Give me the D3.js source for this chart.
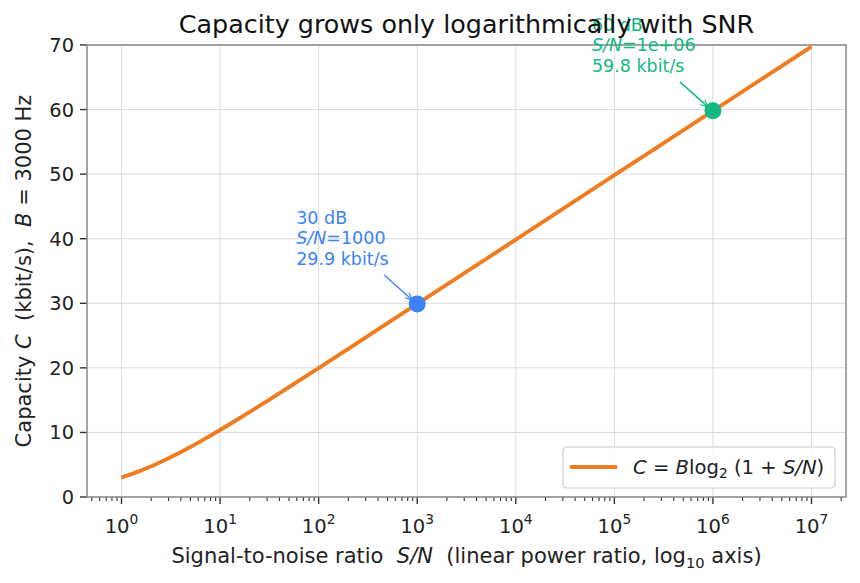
<!DOCTYPE html>
<html>
<head>
<meta charset="utf-8">
<script src="https://cdn.jsdelivr.net/npm/d3@7"></script>
<style>
  body { margin: 0; background: #fff; }
  svg { font-family: "DejaVu Sans", sans-serif; }
</style>
</head>
<body>
<script>
// S/N (linear) and capacity in kbit/s
var snr = [1, 1.5, 2, 3, 5, 7, 10, 15, 20, 30, 50, 70, 100, 200, 500, 1000, 1e4, 1e5, 1e6, 1e7];
var capacity = [3.00, 3.97, 4.75, 6.00, 7.75, 9.00, 10.38, 12.00, 13.18, 14.86, 17.02, 18.46, 19.97, 22.95, 26.91, 29.90, 39.86, 49.83, 59.80, 69.76];

var xTicks = [1, 10, 100, 1000, 1e4, 1e5, 1e6, 1e7];
var xTickExp = ["0", "1", "2", "3", "4", "5", "6", "7"];
var yTicks = [0, 10, 20, 30, 40, 50, 60, 70];

var markSnr = [1000, 1e6];
var markCap = [29.90, 59.80];
var markLines = [["30 dB", "1000", "29.9 kbit/s"], ["60 dB", "1e+06", "59.8 kbit/s"]];
var markColors = ["#3b82f6", "#10b981"];

var W = 860, H = 583;
var margin = { top: 45, right: 14, bottom: 86, left: 87 },
    width = W - margin.left - margin.right,
    height = H - margin.top - margin.bottom;

var svg = d3.select("body").append("svg")
    .attr("width", W).attr("height", H);

var defs = svg.append("defs");
markColors.forEach(function (c, i) {
    defs.append("marker")
        .attr("id", "arr" + i)
        .attr("viewBox", "0 0 10 10")
        .attr("refX", 9).attr("refY", 5)
        .attr("markerWidth", 8).attr("markerHeight", 8)
        .attr("markerUnits", "userSpaceOnUse")
        .attr("orient", "auto")
        .append("path")
        .attr("d", "M0,1 L10,5 L0,9")
        .attr("fill", "none")
        .attr("stroke", c)
        .attr("stroke-width", 1.4);
});

var g = svg.append("g")
    .attr("transform", "translate(" + margin.left + "," + margin.top + ")");

var x = d3.scaleLog()
    .domain([Math.pow(10, -0.35), Math.pow(10, 7.35)])
    .range([0, width]);
var y = d3.scaleLinear().domain([0, 70]).range([height, 0]);

// grid
g.append("g").selectAll("line").data(xTicks).enter().append("line")
    .attr("x1", function (d) { return x(d); }).attr("x2", function (d) { return x(d); })
    .attr("y1", 0).attr("y2", height)
    .attr("stroke", "#d3d7db").attr("stroke-width", 0.9);
g.append("g").selectAll("line").data(yTicks).enter().append("line")
    .attr("x1", 0).attr("x2", width)
    .attr("y1", function (d) { return y(d); }).attr("y2", function (d) { return y(d); })
    .attr("stroke", "#d3d7db").attr("stroke-width", 0.9);

// minor x ticks
var minor = [];
for (var e = -1; e <= 7; e++) {
    for (var m = 2; m <= 9; m++) {
        var v = m * Math.pow(10, e);
        if (v >= x.domain()[0] && v <= x.domain()[1]) minor.push(v);
    }
}
g.append("g").selectAll("line").data(minor).enter().append("line")
    .attr("x1", function (d) { return x(d); }).attr("x2", function (d) { return x(d); })
    .attr("y1", height).attr("y2", height + 4)
    .attr("stroke", "#333").attr("stroke-width", 1.1);

// major x ticks + labels
var xt = g.append("g").selectAll("g").data(xTicks).enter().append("g")
    .attr("transform", function (d) { return "translate(" + x(d) + "," + height + ")"; });
xt.append("line").attr("y2", 7).attr("stroke", "#333").attr("stroke-width", 1.4);
var xl = xt.append("text")
    .attr("y", 36).attr("text-anchor", "middle")
    .attr("font-size", 19.6).attr("fill", "#222");
xl.append("tspan").text("10");
xl.append("tspan").attr("dy", -9).attr("font-size", 13.8)
    .text(function (d, i) { return xTickExp[i]; });

// y ticks
var yt = g.append("g").selectAll("g").data(yTicks).enter().append("g")
    .attr("transform", function (d) { return "translate(0," + y(d) + ")"; });
yt.append("line").attr("x2", -7).attr("stroke", "#333").attr("stroke-width", 1.4);
yt.append("text").attr("x", -13).attr("dy", "0.36em")
    .attr("text-anchor", "end").attr("font-size", 19.4).attr("fill", "#222")
    .text(function (d) { return d; });

// frame
g.append("rect").attr("width", width).attr("height", height)
    .attr("fill", "none").attr("stroke", "#888").attr("stroke-width", 1.5);

// curve
var pts = snr.map(function (s, i) { return [s, capacity[i]]; });
var line = d3.line()
    .x(function (d) { return x(d[0]); })
    .y(function (d) { return y(d[1]); })
    .curve(d3.curveMonotoneX);
g.append("path").datum(pts)
    .attr("d", line)
    .attr("fill", "none")
    .attr("stroke", "#f07c22")
    .attr("stroke-width", 3.9);

// markers + annotations
markSnr.forEach(function (s, i) {
    var cx = x(s), cy = y(markCap[i]);
    var tx = cx - 121, ty = cy - 80;
    g.append("circle").attr("cx", cx).attr("cy", cy).attr("r", 8.5)
        .attr("fill", markColors[i]);
    var t = g.append("text").attr("font-size", 17.5).attr("fill", markColors[i]);
    t.append("tspan").attr("x", tx).attr("y", ty).text(markLines[i][0]);
    var l2 = t.append("tspan").attr("x", tx).attr("y", ty + 20.5);
    l2.append("tspan").attr("font-style", "italic").text("S/N");
    l2.append("tspan").text("=" + markLines[i][1]);
    t.append("tspan").attr("x", tx).attr("y", ty + 41).text(markLines[i][2]);
    g.append("line")
        .attr("x1", cx - 33).attr("y1", cy - 29)
        .attr("x2", cx - 5).attr("y2", cy - 4)
        .attr("stroke", markColors[i]).attr("stroke-width", 1.4)
        .attr("marker-end", "url(#arr" + i + ")");
});

// title
svg.append("text")
    .attr("x", margin.left + width / 2).attr("y", 33)
    .attr("text-anchor", "middle").attr("font-size", 25.4).attr("fill", "#111")
    .text("Capacity grows only logarithmically with SNR");

// x label
var xlab = svg.append("text")
    .attr("x", margin.left + width / 2).attr("y", 563)
    .attr("text-anchor", "middle").attr("font-size", 21).attr("fill", "#222")
    .attr("xml:space", "preserve");
xlab.append("tspan").text("Signal-to-noise ratio  ");
xlab.append("tspan").attr("font-style", "italic").text("S/N");
xlab.append("tspan").text("  (linear power ratio, log");
xlab.append("tspan").attr("font-size", 14.7).attr("dy", 5).text("10");
xlab.append("tspan").attr("dy", -5).text(" axis)");

// y label
var ylab = svg.append("text")
    .attr("transform", "translate(31," + (margin.top + height / 2) + ") rotate(-90)")
    .attr("text-anchor", "middle").attr("font-size", 21).attr("fill", "#222")
    .attr("xml:space", "preserve");
ylab.append("tspan").text("Capacity ");
ylab.append("tspan").attr("font-style", "italic").text("C");
ylab.append("tspan").text("  (kbit/s),  ");
ylab.append("tspan").attr("font-style", "italic").text("B");
ylab.append("tspan").text(" = 3000 Hz");

// legend
var lg = g.append("g").attr("transform", "translate(476,402)");
lg.append("rect").attr("width", 272).attr("height", 41).attr("rx", 4)
    .attr("fill", "#fff").attr("fill-opacity", 0.85)
    .attr("stroke", "#ccc").attr("stroke-width", 1.2);
lg.append("line").attr("x1", 7).attr("x2", 54).attr("y1", 20).attr("y2", 20)
    .attr("stroke", "#f07c22").attr("stroke-width", 3.9);
var lt = lg.append("text").attr("x", 70).attr("y", 27)
    .attr("font-size", 19.6).attr("fill", "#222").attr("xml:space", "preserve");
lt.append("tspan").attr("font-style", "italic").text("C");
lt.append("tspan").text(" = ");
lt.append("tspan").attr("font-style", "italic").text("B");
lt.append("tspan").text("log");
lt.append("tspan").attr("font-size", 13.8).attr("dy", 4).text("2");
lt.append("tspan").attr("dy", -4).text(" (1 + ");
lt.append("tspan").attr("font-style", "italic").text("S/N");
lt.append("tspan").text(")");
</script>
</body>
</html>
